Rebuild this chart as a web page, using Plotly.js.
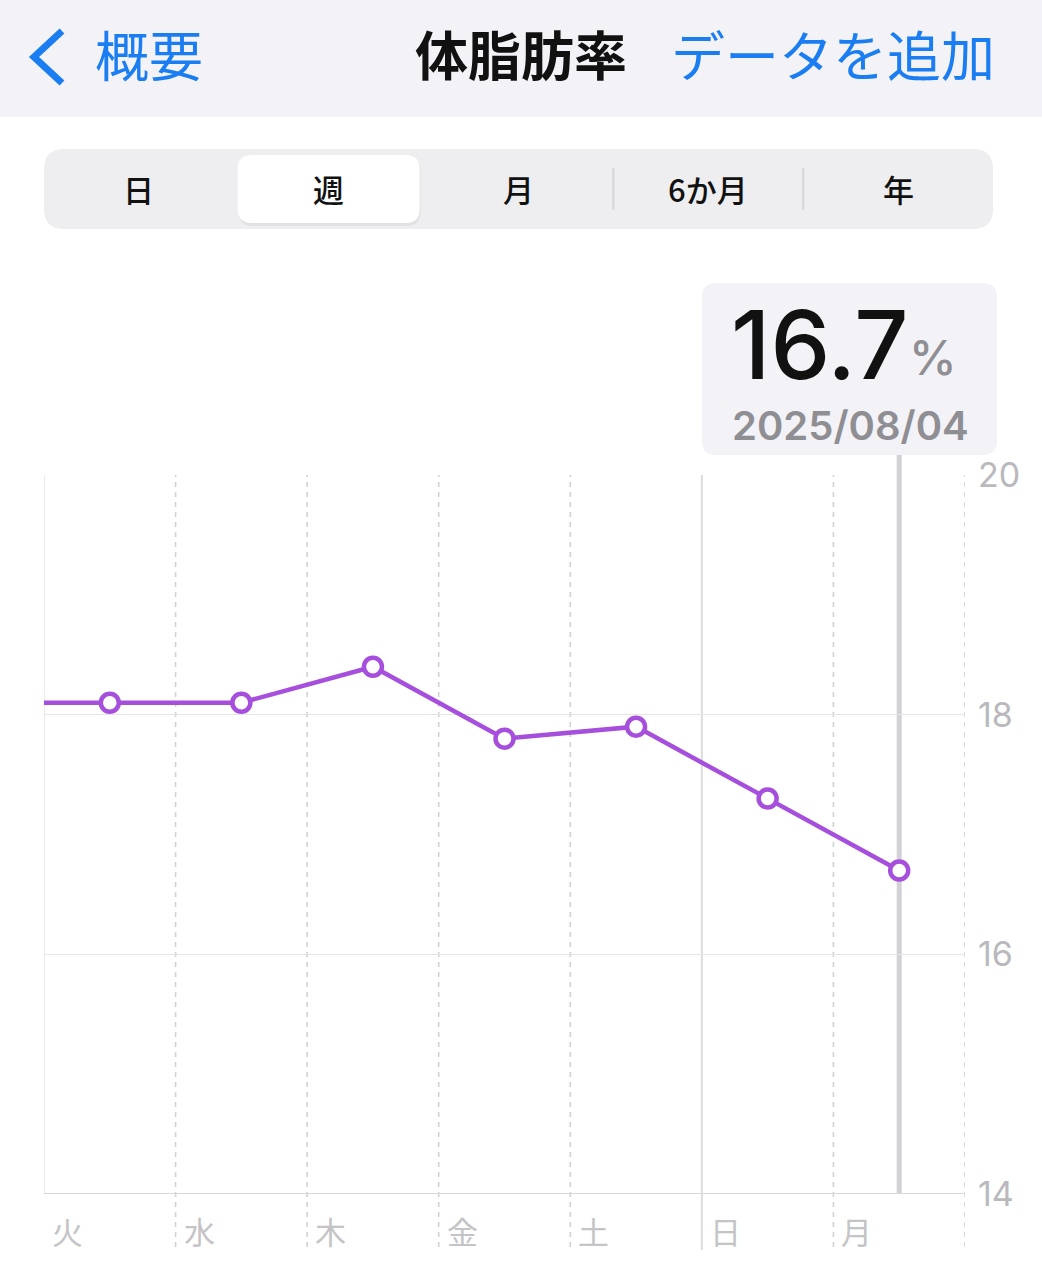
<!DOCTYPE html>
<html>
<head>
<meta charset="utf-8">
<script src="https://cdn.plot.ly/plotly-3.0.1.min.js"></script>
<style>html,body{margin:0;padding:0;background:#fff;}#chart{width:1042px;height:1280px;}</style>
</head>
<body>
<div id="chart"></div>
<script>
// ---- data ----
const days = ['火', '水', '木', '金', '土', '日', '月'];
const bodyFat = [18.1, 18.1, 18.4, 17.8, 17.9, 17.3, 16.7];
const prevDayValue = 18.1;            // previous day (off the left edge)
const yTicks = [14, 16, 18, 20];
const selectedIndex = 6;
const selectedValue = '16.7';
const selectedUnit = '%';
const selectedDate = '2025/08/04';
const segments = ['日', '週', '月', '6か月', '年'];
const selectedSegment = 1;
const navBack = '概要';
const navTitle = '体脂肪率';
const navAction = 'データを追加';

// ---- layout helpers (pixel -> paper) ----
const W = 1042, H = 1280;
const L = 44, R = 965, T = 475, B = 1194;
const px = x => (x - L) / (R - L);
const py = y => (B - y) / (B - T);
function rrect(x0, y0, x1, y1, r) {
  const a = px(x0), b = px(x1), c = py(y0), d = py(y1);
  const rx = r / (R - L), ry = r / (B - T);
  return `M${a + rx},${c} L${b - rx},${c} Q${b},${c} ${b},${c - ry} L${b},${d + ry} Q${b},${d} ${b - rx},${d} L${a + rx},${d} Q${a},${d} ${a},${d + ry} L${a},${c - ry} Q${a},${c} ${a + rx},${c} Z`;
}

const PURPLE = '#a64fdc';
const BLUE = '#1a7ef2';
const CJK = '"Noto Sans CJK JP", "Noto Sans", sans-serif';
const NUM = 'Inter, "Noto Sans CJK JP", sans-serif';

const xs = [-1].concat(days.map((d, i) => i));
const ys = [prevDayValue].concat(bodyFat);

const shapes = [];
// header bar
shapes.push({type: 'rect', xref: 'paper', yref: 'paper', x0: px(-2), x1: px(W + 2), y0: py(0 - 2), y1: py(117),
  fillcolor: '#f2f2f7', line: {width: 0}, layer: 'below'});
// back chevron
shapes.push({type: 'path', xref: 'paper', yref: 'paper',
  path: `M${px(62)},${py(31)} L${px(34)},${py(57)} L${px(62)},${py(83)}`,
  line: {color: BLUE, width: 7}, layer: 'above'});
// segmented control
shapes.push({type: 'path', xref: 'paper', yref: 'paper', path: rrect(44, 149, 993, 229, 20),
  fillcolor: '#eeeef0', line: {width: 0}, layer: 'below'});
const segW = (993 - 44) / segments.length;
const selX0 = 44 + selectedSegment * segW;
shapes.push({type: 'path', xref: 'paper', yref: 'paper', path: rrect(selX0 + 5, 157, selX0 + segW - 3, 226, 14),
  fillcolor: 'rgba(0,0,0,0.05)', line: {width: 0}, layer: 'below'});
shapes.push({type: 'path', xref: 'paper', yref: 'paper', path: rrect(selX0 + 4, 155, selX0 + segW - 4, 223, 14),
  fillcolor: '#ffffff', line: {width: 0}, layer: 'below'});
for (let k = 1; k < segments.length; k++) {
  if (k === selectedSegment || k === selectedSegment + 1) continue;
  const sx = 44 + k * segW;
  shapes.push({type: 'line', xref: 'paper', yref: 'paper', x0: px(sx), x1: px(sx), y0: py(168), y1: py(210),
    line: {color: '#d6d6d8', width: 2}});
}
// tooltip box
shapes.push({type: 'path', xref: 'paper', yref: 'paper', path: rrect(702, 283, 997, 455, 14),
  fillcolor: '#f2f2f7', line: {width: 0}, layer: 'below'});

// chart frame: left border
shapes.push({type: 'line', xref: 'x', yref: 'paper', x0: -0.5, x1: -0.5, y0: 0, y1: 1,
  line: {color: '#e4e4e6', width: 1.5}, layer: 'below'});
// day boundaries
for (let k = 1; k <= days.length; k++) {
  const bx = k - 0.5;
  const solid = days[k] === '日';
  shapes.push({type: 'line', xref: 'x', yref: 'paper', x0: bx, x1: bx, y0: py(solid ? 1250 : 1247), y1: 1,
    line: {color: solid ? '#dcdcde' : '#d2d2d4', width: solid ? 2 : 1.6, dash: solid ? 'solid' : '5px,5px'}, layer: 'below'});
}
// baseline
shapes.push({type: 'line', xref: 'x', yref: 'y', x0: -0.5, x1: days.length - 0.5, y0: yTicks[0], y1: yTicks[0],
  line: {color: '#d8d8da', width: 2}, layer: 'below'});
// selection rule
shapes.push({type: 'line', xref: 'x', yref: 'paper', x0: selectedIndex, x1: selectedIndex, y0: 0, y1: py(455),
  line: {color: '#d1d1d6', width: 5}, layer: 'below'});

const annotations = [];
// nav
annotations.push({xref: 'paper', yref: 'paper', x: px(93), y: py(53), xanchor: 'left', yanchor: 'middle',
  text: navBack, showarrow: false, font: {family: CJK, size: 54, color: BLUE}});
annotations.push({xref: 'paper', yref: 'paper', x: px(521), y: py(53), xanchor: 'center', yanchor: 'middle',
  text: navTitle, showarrow: false, font: {family: CJK, size: 53, color: '#111111', weight: 700}});
annotations.push({xref: 'paper', yref: 'paper', x: px(997), y: py(53), xanchor: 'right', yanchor: 'middle',
  text: navAction, showarrow: false, font: {family: CJK, size: 54, color: BLUE}});
// segments
segments.forEach((s, i) => {
  annotations.push({xref: 'paper', yref: 'paper', x: px(44 + (i + 0.5) * segW), y: py(189), xanchor: 'center', yanchor: 'middle',
    text: s, showarrow: false, font: {family: CJK, size: 31, color: '#111111', weight: 500}});
});
// tooltip
annotations.push({xref: 'paper', yref: 'paper', x: px(729), y: py(344), xanchor: 'left', yanchor: 'middle',
  text: selectedValue, showarrow: false, font: {family: NUM, size: 95, color: '#111111', weight: 500}});
annotations.push({xref: 'paper', yref: 'paper', x: px(907), y: py(358), xanchor: 'left', yanchor: 'middle',
  text: selectedUnit, showarrow: false, font: {family: NUM, size: 48, color: '#8e8e93', weight: 500}});
annotations.push({xref: 'paper', yref: 'paper', x: px(850), y: py(425), xanchor: 'center', yanchor: 'middle',
  text: selectedDate, showarrow: false, font: {family: NUM, size: 40, color: '#8e8e93', weight: 600}});
// day labels
days.forEach((d, i) => {
  annotations.push({xref: 'x', yref: 'paper', x: i - 0.5, y: py(1230), xanchor: 'left', yanchor: 'middle', xshift: 6,
    text: d, showarrow: false, font: {family: CJK, size: 31, color: '#c4c4c6'}});
});

const trace = {
  x: xs, y: ys, type: 'scatter', mode: 'lines+markers',
  line: {color: PURPLE, width: 4.5},
  marker: {symbol: 'circle', size: 18, color: '#ffffff', line: {color: PURPLE, width: 4.5}},
  hoverinfo: 'skip', showlegend: false
};

const layout = {
  width: W, height: H,
  margin: {l: L, r: W - R, t: T, b: H - B, pad: 0},
  paper_bgcolor: '#ffffff', plot_bgcolor: '#ffffff',
  showlegend: false,
  xaxis: {range: [-0.5, days.length - 0.5], showgrid: false, zeroline: false, showticklabels: false,
    ticks: '', showline: false, fixedrange: true},
  yaxis: {range: [yTicks[0], yTicks[yTicks.length - 1]], side: 'right', tickvals: yTicks,
    ticktext: yTicks.map(String), showgrid: true, gridcolor: '#e6e6e8', gridwidth: 1.5,
    zeroline: false, showline: false, ticks: '', ticklabelstandoff: 12,
    tickfont: {family: NUM, size: 34, color: '#b9b9bd'}, fixedrange: true},
  shapes: shapes,
  annotations: annotations
};

Plotly.newPlot('chart', [trace], layout, {displayModeBar: false, staticPlot: true});
</script>
</body>
</html>
